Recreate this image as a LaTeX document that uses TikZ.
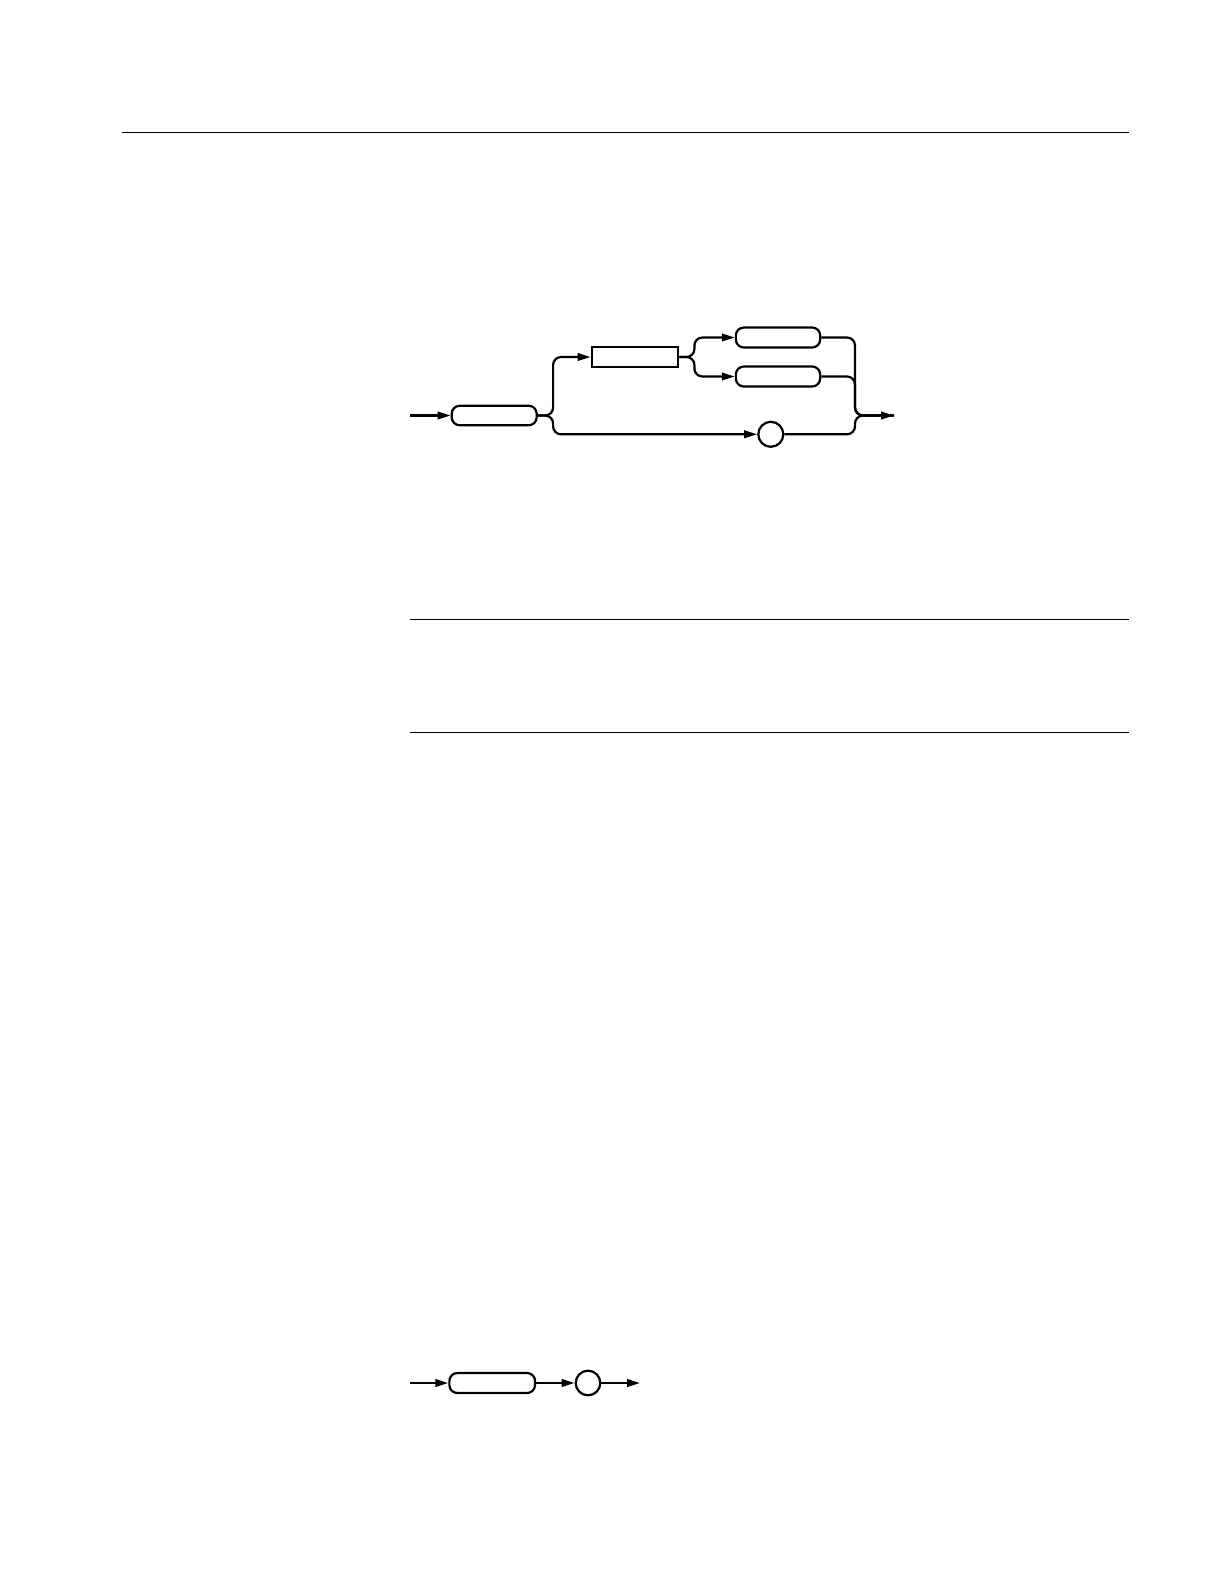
\documentclass[tikz,border=0pt]{standalone}
\usetikzlibrary{arrows.meta,calc}
\begin{document}
\begin{tikzpicture}[x=1pt,y=-1pt,
  ln/.style={line width=2.2pt},
  rule/.style={line width=1.3pt},
  arr/.style={ln,-{Triangle[length=13pt,width=7.5pt]}},
  rc/.style={rounded corners=8pt},
  rbox/.style={draw,ln,rounded corners=8pt,minimum width=85pt,minimum height=19.5pt,inner sep=0pt},
  sbox/.style={draw,ln,minimum width=86.6pt,minimum height=19.4pt,inner sep=0pt},
  cbox/.style={draw,ln,circle,minimum size=25pt,inner sep=0pt}]
\useasboundingbox (0,0) rectangle (1224,1584);
% rules
\draw[rule] (121.7,132.7) -- (1129,132.7);
\draw[rule] (410,619.3) -- (1129,619.3);
\draw[rule] (410,732.7) -- (1129,732.7);
% top diagram
\node[rbox] (b1) at (494.2,415.5) {};
\node[sbox] (b2) at (635,357) {};
\node[rbox,minimum width=84.3pt,minimum height=20pt] (b3) at (778,337.5) {};
\node[rbox,minimum width=84.3pt,minimum height=20pt] (b4) at (778,376.5) {};
\node[cbox] (c1) at (770.8,434.3) {};
\coordinate (in1) at (410,415.5);
\coordinate (m) at (855,415.5);
\coordinate (out1) at (894,415.5);
\draw[arr] (in1) -- (b1.west);
\draw[arr,rc] (b1.east) -- ++(15.3,0) |- (b2.west);
\draw[arr,rc] (b1.east) -- ++(15.3,0) |- (c1.west);
\draw[arr,rc] (b2.east) -- ++(15,0) |- (b3.west);
\draw[arr,rc] (b2.east) -- ++(15,0) |- (b4.west);
\draw[ln,rc] (b4.east) -| (m) -- (out1);
\draw[ln,rc] (c1.east) -| (m) -- (out1);
\draw[arr,rc] (b3.east) -| (m) -- (out1);
% bottom diagram
\node[rbox,minimum width=85.7pt,minimum height=20pt] (b5) at (492.2,1383) {};
\node[cbox,minimum size=24.6pt] (c2) at (588,1383) {};
\coordinate (in2) at (410,1383);
\coordinate (out2) at (640,1383);
\draw[arr] (in2) -- (b5.west);
\draw[arr] (b5.east) -- (c2.west);
\draw[arr] (c2.east) -- (out2);
\end{tikzpicture}
\end{document}
